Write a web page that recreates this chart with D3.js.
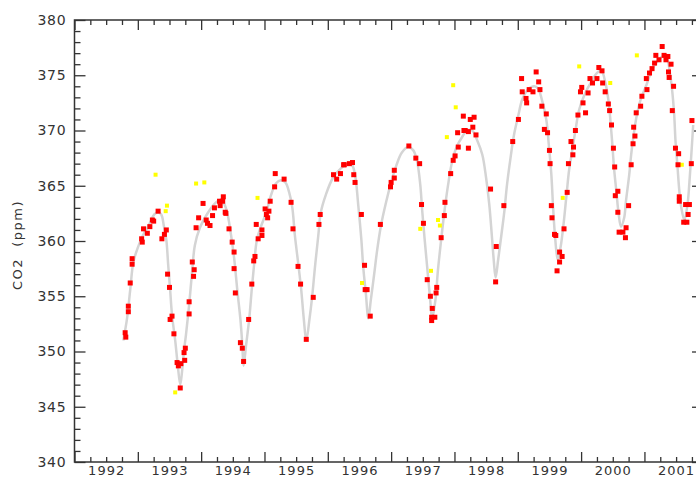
<!DOCTYPE html>
<html>
<head>
<meta charset="utf-8">
<script src="https://cdn.jsdelivr.net/npm/d3@7"></script>
<style>
  body { margin: 0; background: #fff; }
  text { font-family: "DejaVu Sans", sans-serif; fill: #333; }
</style>
</head>
<body>
<figure id="chart" style="margin:0"></figure>
<script>
// flask samples (red)
const redYear = [1992.80,1992.81,1992.85,1992.85,1992.88,1992.91,1992.91,1993.06,1993.07,1993.09,1993.15,1993.19,1993.23,1993.25,1993.32,1993.45,1993.42,1993.38,1993.47,1993.50,1993.54,1993.51,1993.57,1993.75,1993.73,1993.74,1993.62,1993.64,1993.68,1993.67,1993.81,1993.81,1993.86,1993.89,1993.88,1993.92,1993.96,1994.03,1994.08,1994.10,1994.14,1994.18,1994.21,1994.29,1994.35,1994.30,1994.38,1994.34,1994.39,1994.44,1994.49,1994.52,1994.52,1994.54,1994.62,1994.65,1994.67,1994.75,1994.80,1994.83,1994.85,1994.87,1994.90,1994.96,1994.96,1995.01,1995.03,1995.05,1995.07,1995.09,1995.16,1995.17,1995.31,1995.42,1995.45,1995.53,1995.57,1995.66,1995.77,1995.86,1995.88,1996.09,1996.14,1996.20,1996.25,1996.26,1996.34,1996.39,1996.41,1996.43,1996.53,1996.58,1996.62,1996.59,1996.67,1996.83,1996.99,1997.00,1997.05,1997.05,1997.28,1997.39,1997.45,1997.48,1997.51,1997.57,1997.62,1997.71,1997.72,1997.65,1997.64,1997.69,1997.64,1997.79,1997.84,1997.85,1997.94,1997.98,1998.01,1998.06,1998.05,1998.14,1998.15,1998.25,1998.31,1998.29,1998.17,1998.22,1998.34,1998.22,1998.57,1998.66,1998.65,1998.78,1998.92,1999.01,1999.06,1999.07,1999.13,1999.14,1999.18,1999.24,1999.29,1999.33,1999.35,1999.38,1999.45,1999.42,1999.47,1999.50,1999.51,1999.53,1999.54,1999.58,1999.60,1999.66,1999.70,1999.66,1999.62,1999.73,1999.78,1999.80,1999.87,1999.88,1999.84,1999.91,1999.95,1999.99,2000.01,2000.03,2000.07,2000.11,2000.14,2000.18,2000.25,2000.28,2000.33,2000.34,2000.38,2000.43,2000.45,2000.48,2000.51,2000.53,2000.54,2000.58,2000.58,2000.60,2000.66,2000.70,2000.71,2000.75,2000.79,2000.82,2000.85,2000.83,2000.87,2000.94,2000.96,2001.04,2001.03,2001.08,2001.12,2001.16,2001.18,2001.23,2001.28,2001.31,2001.34,2001.37,2001.42,2001.38,2001.39,2001.46,2001.44,2001.49,2001.54,2001.53,2001.55,2001.55,2001.65,2001.71,2001.69,2001.62,2001.67,2001.74,2001.75];
const redPpm = [351.7,351.3,354.1,353.6,356.2,358.4,357.9,360.2,359.9,361.1,360.7,361.3,361.9,361.8,362.7,361.0,360.6,360.2,357.0,355.8,353.2,352.9,351.6,350.3,349.9,349.2,349.0,348.7,348.9,346.7,354.5,353.4,358.1,357.4,356.8,361.2,362.1,363.4,361.9,361.6,361.4,362.3,363.0,363.6,364.0,363.2,362.6,363.6,362.5,361.1,359.9,359.0,357.5,355.3,350.8,350.3,349.1,352.9,356.1,358.2,358.6,361.5,360.2,360.5,361.0,362.9,362.4,362.1,362.7,363.6,364.9,366.1,365.6,363.5,361.1,357.7,356.1,351.1,354.9,361.5,362.4,366.0,365.6,366.1,366.9,366.9,367.0,367.1,366.0,365.3,362.4,357.8,355.6,355.6,353.2,361.5,364.9,365.3,365.7,366.4,368.6,367.5,367.0,363.3,361.6,356.5,355.0,355.3,355.8,353.9,353.1,353.1,352.8,360.3,362.3,363.5,366.1,367.3,367.7,368.5,369.8,371.3,370.0,371.0,371.2,370.3,370.0,369.9,369.6,368.4,364.7,359.5,356.3,363.2,369.0,371.0,374.7,373.5,372.9,372.5,373.7,373.5,375.3,374.4,373.7,372.2,371.5,370.1,369.8,368.2,367.0,363.2,362.1,360.6,360.5,359.0,358.6,358.1,357.3,361.1,364.4,367.0,367.8,368.5,369.0,370.0,371.4,373.5,373.9,372.5,371.6,373.4,374.7,374.3,374.7,375.7,375.4,374.3,373.5,372.4,371.8,370.5,368.4,366.7,364.1,364.5,362.6,360.8,360.8,360.3,361.2,363.2,366.9,368.8,369.5,370.3,371.6,372.2,373.1,373.7,374.7,375.2,375.6,376.1,376.8,376.4,377.6,376.8,376.4,376.7,376.0,375.3,374.8,374.0,371.8,368.4,367.9,366.9,364.0,363.6,363.3,363.3,362.4,361.7,361.7,367.0,370.9];

// flagged samples (yellow)
const yellowYear = [1993.28,1993.44,1993.46,1993.92,1994.05,1993.59,1994.89,1996.54,1997.46,1997.63,1997.74,1997.77,1997.88,1998.02,1997.98,1999.71,1999.97,2000.46,2000.88,2001.59];
const yellowPpm = [366.0,362.7,363.2,365.2,365.3,346.3,363.9,356.2,361.1,357.3,361.9,361.4,369.4,372.1,374.1,363.9,375.8,374.3,376.8,366.9];

// smooth fit (grey)
const fitYear = [1992.77,1992.83,1992.88,1992.93,1993.00,1993.08,1993.18,1993.26,1993.32,1993.37,1993.41,1993.45,1993.48,1993.51,1993.54,1993.59,1993.63,1993.67,1993.70,1993.73,1993.76,1993.81,1993.86,1993.90,1993.98,1994.09,1994.20,1994.30,1994.36,1994.41,1994.46,1994.52,1994.57,1994.62,1994.65,1994.67,1994.71,1994.76,1994.80,1994.84,1994.88,1994.95,1995.03,1995.10,1995.18,1995.26,1995.33,1995.39,1995.44,1995.48,1995.53,1995.58,1995.62,1995.66,1995.71,1995.75,1995.80,1995.85,1995.89,1995.97,1996.08,1996.21,1996.32,1996.38,1996.43,1996.48,1996.53,1996.56,1996.60,1996.64,1996.68,1996.73,1996.78,1996.84,1996.92,1997.00,1997.08,1997.17,1997.27,1997.35,1997.41,1997.46,1997.49,1997.53,1997.57,1997.61,1997.65,1997.70,1997.74,1997.79,1997.84,1997.90,1997.96,1998.04,1998.12,1998.20,1998.28,1998.36,1998.44,1998.50,1998.55,1998.59,1998.62,1998.65,1998.69,1998.74,1998.79,1998.83,1998.88,1998.94,1999.01,1999.07,1999.16,1999.26,1999.32,1999.38,1999.45,1999.49,1999.53,1999.56,1999.59,1999.63,1999.68,1999.72,1999.77,1999.81,1999.86,1999.91,1999.97,2000.05,2000.16,2000.27,2000.33,2000.38,2000.43,2000.46,2000.49,2000.52,2000.56,2000.59,2000.63,2000.68,2000.71,2000.76,2000.79,2000.83,2000.88,2000.94,2001.03,2001.12,2001.22,2001.29,2001.36,2001.40,2001.44,2001.47,2001.49,2001.52,2001.55,2001.58,2001.63,2001.68,2001.71,2001.74,2001.77];
const fitPpm = [351.0,353.0,355.6,358.1,359.4,360.5,361.5,362.4,362.6,362.4,361.4,360.1,357.8,355.6,353.3,351.0,348.8,347.0,348.3,350.1,351.5,354.2,357.4,359.6,361.2,362.4,363.3,363.7,363.4,362.6,361.0,358.5,355.6,352.9,350.6,348.7,350.6,353.0,355.7,358.1,360.1,361.4,362.6,364.1,365.2,365.5,365.3,364.4,363.0,360.5,358.1,355.6,353.0,351.0,352.9,354.8,357.8,360.5,362.6,364.2,365.7,366.6,367.0,366.9,366.0,363.3,360.1,357.6,355.3,353.0,354.7,356.9,359.2,361.4,363.5,365.3,366.8,368.0,368.5,368.2,367.2,365.1,362.8,360.1,357.6,355.1,353.0,354.7,357.4,360.1,362.6,365.1,367.1,368.6,369.4,370.0,370.0,369.1,367.8,365.7,363.3,360.5,358.3,356.7,358.3,360.5,362.8,365.1,367.3,369.6,371.4,372.8,373.7,374.0,373.8,372.8,371.0,368.7,366.0,362.8,360.3,358.3,359.6,361.4,364.2,366.4,368.2,370.0,371.9,373.2,374.4,375.3,375.3,374.4,372.8,371.1,369.0,366.6,364.3,362.6,361.3,362.1,363.7,366.0,367.8,369.6,371.4,372.8,374.1,375.5,376.4,376.7,376.4,375.3,373.5,371.4,369.1,366.9,364.6,363.1,361.9,363.3,365.3,367.8,370.5];

const yTicks = [340, 345, 350, 355, 360, 365, 370, 375, 380];
const years = [1992, 1993, 1994, 1995, 1996, 1997, 1998, 1999, 2000, 2001];

const width = 696, height = 479;
const m = { left: 74.5, right: 697, top: 20, bottom: 462 };

const svg = d3.select("#chart").append("svg")
  .attr("width", width)
  .attr("height", height);

const x = d3.scaleLinear().domain([1992, 2001.83]).range([m.left, m.right]);
const y = d3.scaleLinear().domain([340, 380]).range([m.bottom, m.top]);

const quarters = d3.range(1992, 2002, 0.25).filter(v => v % 1 !== 0);
const minorPpm = d3.range(341, 380).filter(v => v % 5 !== 0);

function styleAxis(g) {
  g.select(".domain").remove();
  g.selectAll("line").attr("stroke", "#333").attr("stroke-width", 1.3);
}

// bottom axis: major, minor, labels at mid-year
svg.append("g").attr("transform", "translate(0," + m.bottom + ")")
  .call(d3.axisBottom(x).tickValues(years).tickSize(-10).tickFormat(""))
  .call(styleAxis);
svg.append("g").attr("transform", "translate(0," + m.bottom + ")")
  .call(d3.axisBottom(x).tickValues(quarters).tickSize(-5).tickFormat(""))
  .call(styleAxis);
svg.append("g").attr("transform", "translate(0," + m.bottom + ")")
  .call(d3.axisBottom(x).tickValues(years.map(v => v + 0.5)).tickSize(0).tickPadding(4)
    .tickFormat(v => String(Math.floor(v))))
  .call(g => g.select(".domain").remove())
  .selectAll("text")
  .style("font-size", "13px")
  .style("letter-spacing", "1px");

// top axis ticks
svg.append("g").attr("transform", "translate(0," + m.top + ")")
  .call(d3.axisTop(x).tickValues(years).tickSize(-10).tickFormat(""))
  .call(styleAxis);
svg.append("g").attr("transform", "translate(0," + m.top + ")")
  .call(d3.axisTop(x).tickValues(quarters).tickSize(-5).tickFormat(""))
  .call(styleAxis);

// left axis
svg.append("g").attr("transform", "translate(" + m.left + ",0)")
  .call(d3.axisLeft(y).tickValues(yTicks).tickSize(-11).tickPadding(8).tickFormat(d3.format("d")))
  .call(styleAxis)
  .selectAll("text")
  .style("font-size", "14px")
  .style("letter-spacing", "0.8px");
svg.append("g").attr("transform", "translate(" + m.left + ",0)")
  .call(d3.axisLeft(y).tickValues(minorPpm).tickSize(-6).tickFormat(""))
  .call(styleAxis);

// right axis ticks
svg.append("g").attr("transform", "translate(" + m.right + ",0)")
  .call(d3.axisRight(y).tickValues(yTicks).tickSize(-5).tickFormat(""))
  .call(styleAxis);

// frame
svg.append("rect")
  .attr("x", m.left).attr("y", m.top)
  .attr("width", m.right - m.left).attr("height", m.bottom - m.top)
  .attr("fill", "none").attr("stroke", "#333").attr("stroke-width", 1.5);

// axis title
svg.append("text")
  .attr("transform", "translate(22," + ((m.top + m.bottom) / 2 + 4) + ") rotate(-90)")
  .attr("text-anchor", "middle")
  .style("font-size", "13px")
  .style("letter-spacing", "1.5px")
  .style("white-space", "pre")
  .text("CO2  (ppm)");

// grey fit
const fit = fitYear.map((v, i) => [v, fitPpm[i]]);
svg.append("path")
  .datum(fit)
  .attr("fill", "none")
  .attr("stroke", "#d4d4d4")
  .attr("stroke-width", 2.5)
  .attr("d", d3.line().x(d => x(d[0])).y(d => y(d[1])).curve(d3.curveCatmullRom.alpha(0.5)));

// yellow samples
svg.selectAll("rect.yel")
  .data(yellowYear.map((v, i) => [v, yellowPpm[i]]))
  .enter().append("rect")
  .attr("class", "yel")
  .attr("x", d => x(d[0]) - 2)
  .attr("y", d => y(d[1]) - 2)
  .attr("width", 4).attr("height", 4)
  .attr("fill", "#ffff00");

// red samples
svg.selectAll("rect.red")
  .data(redYear.map((v, i) => [v, redPpm[i]]))
  .enter().append("rect")
  .attr("class", "red")
  .attr("x", d => x(d[0]) - 2.5)
  .attr("y", d => y(d[1]) - 2.5)
  .attr("width", 5).attr("height", 5)
  .attr("fill", "#ff0000");
</script>
</body>
</html>
